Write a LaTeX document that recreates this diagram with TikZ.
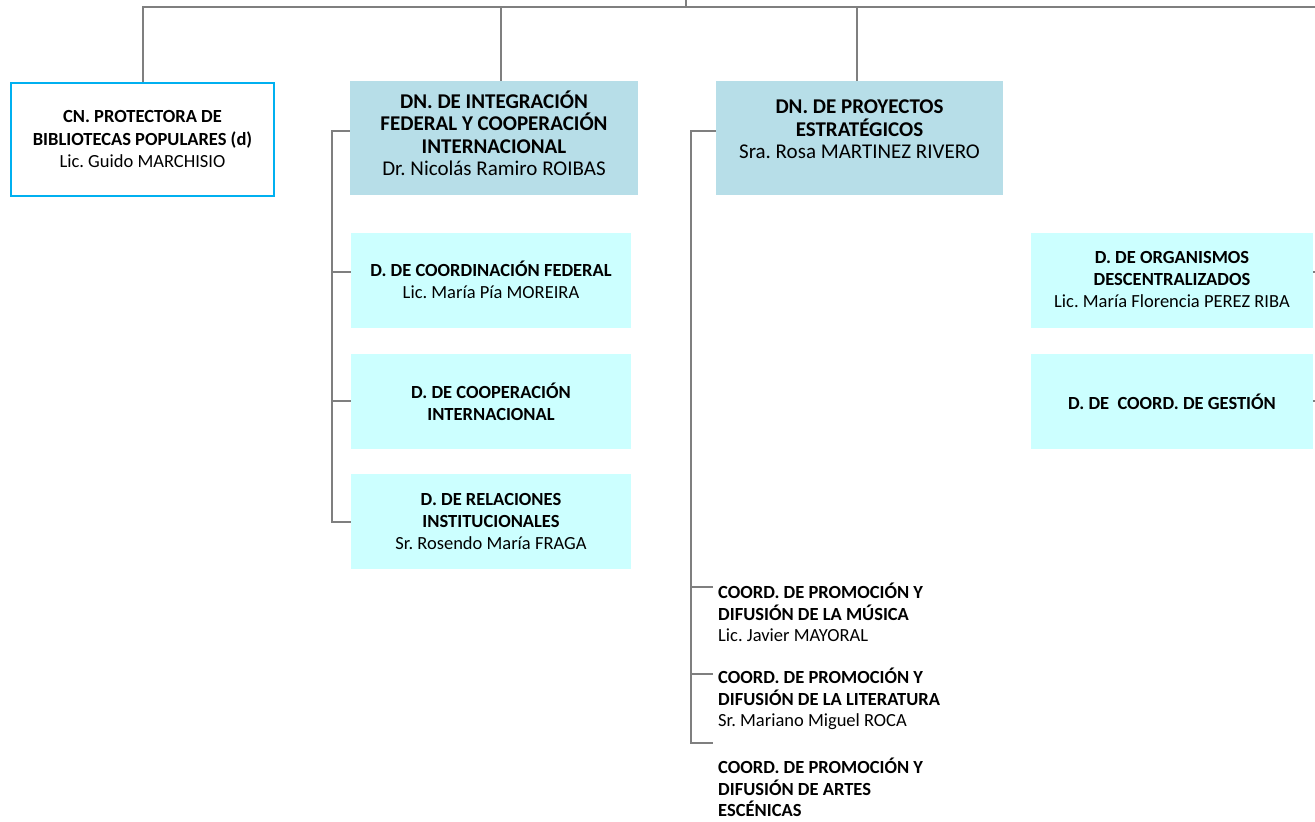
\documentclass[tikz,border=0pt]{standalone}
\usepackage{fontspec}
\setmainfont{Carlito}
\usepackage{xcolor}
\usepackage{tikz}
\usetikzlibrary{positioning}
\frenchspacing
\definecolor{dnteal}{HTML}{B7DEE8}
\definecolor{dpale}{HTML}{CCFFFF}
\definecolor{cnblue}{HTML}{00B0F0}
\definecolor{linegray}{HTML}{7F7F7F}
\tikzset{
  council/.style={
    draw=cnblue,
    line width=2pt,
    fill=white,
    align=center,
    font=\fontsize{18.5}{22.5}\selectfont,
    minimum width=263pt,
    minimum height=113pt,
    inner sep=2pt
  },
  dnbox/.style={
    fill=dnteal,
    align=center,
    font=\fontsize{21}{22.5}\selectfont,
    minimum width=288pt,
    minimum height=114pt,
    inner sep=2pt
  },
  dbox/.style={
    fill=dpale,
    align=center,
    font=\fontsize{18.5}{22}\selectfont,
    minimum width=280pt,
    minimum height=95pt,
    inner sep=2pt
  },
  coordtxt/.style={
    anchor=north west,
    align=left,
    font=\fontsize{18.5}{21.5}\selectfont,
    inner xsep=5pt,
    inner ysep=0pt
  },
  conn/.style={draw=linegray, line width=2pt}
}

\begin{document}
\begin{tikzpicture}[x=1pt, y=-1pt]
  \useasboundingbox (0,0) rectangle (1315,822);

  \node[council] (cn) at (142.5,139.5) {\textbf{CN. PROTECTORA DE}\\\textbf{BIBLIOTECAS POPULARES (d)}\\Lic. Guido MARCHISIO};

  \node[dnbox, text depth=10pt] (dni) at (494,138) {\textbf{DN. DE INTEGRACIÓN}\\\textbf{FEDERAL Y COOPERACIÓN}\\\textbf{INTERNACIONAL}\\Dr. Nicolás Ramiro ROIBAS};
  \node[dnbox, text depth=17pt, minimum width=287pt] (dnp) at (859.5,138) {\textbf{DN. DE PROYECTOS}\\\textbf{ESTRATÉGICOS}\\Sra. Rosa MARTINEZ RIVERO};

  \node[dbox] (dcf) at (491,280) {\textbf{D. DE COORDINACIÓN FEDERAL}\\Lic. María Pía MOREIRA};
  \node[dbox, below=26pt of dcf] (dci) {\textbf{D. DE COOPERACIÓN}\\\textbf{INTERNACIONAL}};
  \node[dbox, below=25pt of dci] (dri) {\textbf{D. DE RELACIONES}\\\textbf{INSTITUCIONALES}\\Sr. Rosendo María FRAGA};

  \node[dbox, minimum width=282pt] (dod) at (1172,280) {\textbf{D. DE ORGANISMOS}\\\textbf{DESCENTRALIZADOS}\\Lic. María Florencia PEREZ RIBA};
  \node[dbox, minimum width=282pt, below=26pt of dod] (dcg) {\textbf{D. DE\ \ COORD. DE GESTIÓN}};

  \node[coordtxt] (cmus) at (713,583) {\textbf{COORD. DE PROMOCIÓN Y}\\\textbf{DIFUSIÓN DE LA MÚSICA}\\Lic. Javier MAYORAL};
  \node[coordtxt] (clit) at (713,668) {\textbf{COORD. DE PROMOCIÓN Y}\\\textbf{DIFUSIÓN DE LA LITERATURA}\\Sr. Mariano Miguel ROCA};
  \node[coordtxt] (cesc) at (713,758) {\textbf{COORD. DE PROMOCIÓN Y}\\\textbf{DIFUSIÓN DE ARTES}\\\textbf{ESCÉNICAS}};

  % bus from above
  \coordinate (apex) at (686,0);
  \coordinate (bus) at (686,7);
  \coordinate (busend) at (1315,7);
  \coordinate (dniTop) at ([xshift=7pt]dni.north);
  \coordinate (dnpTop) at ([xshift=-2.5pt]dnp.north);
  \draw[conn] (apex) -- (bus);
  \draw[conn] (cn.north) |- (busend);
  \draw[conn] (dniTop) -- (dniTop |- bus);
  \draw[conn] (dnpTop) -- (dnpTop |- bus);

  % integracion branch
  \coordinate (spineA) at (332,131);
  \coordinate (dcfIn) at ([yshift=8pt]dcf.west);
  \draw[conn] ([yshift=7pt]dni.west) -- (spineA) |- (dri.west);
  \draw[conn] (dcfIn) -- (spineA |- dcfIn);
  \draw[conn] (dci.west) -- (spineA |- dci.west);

  % proyectos branch
  \coordinate (spineB) at (691,131);
  \coordinate (t3) at (713,743);
  \coordinate (cmusIn) at ([yshift=-4pt]cmus.north west);
  \coordinate (clitIn) at ([yshift=-6pt]clit.north west);
  \draw[conn] ([yshift=7pt]dnp.west) -- (spineB) |- (t3);
  \draw[conn] (cmusIn) -- (spineB |- cmusIn);
  \draw[conn] (clitIn) -- (spineB |- clitIn);

  % ties leaving on the right
  \coordinate (rimA) at (1315,272);
  \coordinate (rimB) at (1315,403);
  \draw[conn] ([yshift=8pt]dod.east) -- (rimA);
  \draw[conn] (dcg.east) -- (dcg.east -| rimB);
\end{tikzpicture}
\end{document}
